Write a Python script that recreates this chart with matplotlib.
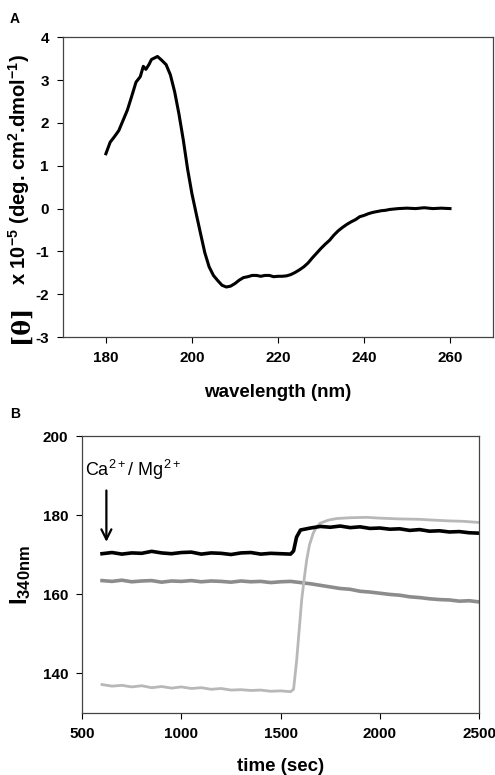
import numpy as np
import matplotlib.pyplot as plt

plt.rcParams['font.family'] = ['Liberation Sans', 'DejaVu Sans']
plt.rcParams['axes.unicode_minus'] = False

# panel A : CD spectrum
wavelength = [180, 181, 182, 183, 184, 185, 186, 187, 188, 188.7, 189.3, 190, 190.6, 191, 192,
              193, 194, 195, 196, 197, 198, 199, 200, 201, 202, 203, 204, 205, 206,
              207, 208, 209, 210, 211, 212, 213, 214, 215, 216, 217, 218, 219, 220,
              221, 222, 223, 224, 225, 226, 227, 228, 229, 230, 231, 232, 233, 234,
              235, 236, 237, 238, 239, 240, 241, 242, 243, 244, 245, 246, 247, 248,
              250, 252, 254, 256, 258, 260]
theta = [1.28, 1.55, 1.68, 1.82, 2.06, 2.3, 2.62, 2.95, 3.08, 3.32, 3.25, 3.36, 3.48, 3.5, 3.55,
         3.46, 3.36, 3.12, 2.72, 2.2, 1.6, 0.92, 0.35, -0.12, -0.58, -1.03, -1.36, -1.56, -1.68,
         -1.79, -1.83, -1.81, -1.75, -1.67, -1.61, -1.59, -1.56, -1.56, -1.58, -1.56, -1.56, -1.59, -1.58,
         -1.58, -1.57, -1.54, -1.49, -1.43, -1.36, -1.27, -1.15, -1.04, -0.93, -0.83, -0.74, -0.62, -0.52,
         -0.44, -0.37, -0.31, -0.26, -0.19, -0.16, -0.12, -0.09, -0.07, -0.05, -0.04, -0.02, -0.01, 0.0,
         0.01, 0.0, 0.02, 0.0, 0.01, 0.0]

# panel B : fluorescence time course
t_black = [600, 650, 700, 750, 800, 850, 900, 950, 1000, 1050, 1100, 1150, 1200, 1250, 1300,
           1350, 1400, 1450, 1500, 1550, 1565, 1580, 1600, 1650, 1700, 1750, 1800, 1850, 1900,
           1950, 2000, 2050, 2100, 2150, 2200, 2250, 2300, 2350, 2400, 2450, 2500]
i_black = [170.3, 170.6, 170.2, 170.5, 170.4, 170.9, 170.5, 170.3, 170.6, 170.7, 170.2, 170.5, 170.4, 170.1, 170.5,
           170.6, 170.2, 170.4, 170.3, 170.2, 171.0, 174.5, 176.3, 176.8, 177.2, 177.0, 177.3, 176.9, 177.1,
           176.7, 176.8, 176.5, 176.6, 176.2, 176.4, 176.0, 176.1, 175.8, 175.9, 175.6, 175.5]

t_dark = [600, 650, 700, 750, 800, 850, 900, 950, 1000, 1050, 1100, 1150, 1200, 1250, 1300,
          1350, 1400, 1450, 1500, 1550, 1600, 1650, 1700, 1750, 1800, 1850, 1900, 1950, 2000,
          2050, 2100, 2150, 2200, 2250, 2300, 2350, 2400, 2450, 2500]
i_dark = [163.5, 163.3, 163.6, 163.2, 163.4, 163.5, 163.1, 163.4, 163.3, 163.5, 163.2, 163.4, 163.3, 163.1, 163.4,
          163.2, 163.3, 163.0, 163.2, 163.3, 163.0, 162.7, 162.3, 161.9, 161.5, 161.3, 160.8, 160.6, 160.3,
          160.0, 159.8, 159.4, 159.2, 158.9, 158.7, 158.6, 158.3, 158.4, 158.1]

t_light = [600, 650, 700, 750, 800, 850, 900, 950, 1000, 1050, 1100, 1150, 1200, 1250, 1300,
           1350, 1400, 1450, 1500, 1550, 1565, 1580, 1595, 1606, 1620, 1631, 1645, 1664, 1680,
           1698, 1740, 1782, 1850, 1933, 2000, 2100, 2200, 2270, 2350, 2420, 2500]
i_light = [137.2, 136.8, 137.0, 136.6, 136.9, 136.4, 136.7, 136.3, 136.6, 136.2, 136.4, 136.0, 136.2, 135.8, 135.9,
           135.7, 135.8, 135.5, 135.6, 135.4, 136.0, 143.0, 152.0, 158.7, 164.5, 168.7, 172.5, 175.5, 177.0,
           178.0, 178.8, 179.2, 179.4, 179.5, 179.3, 179.1, 179.0, 178.8, 178.6, 178.5, 178.2]

fig = plt.figure(figsize=(4.95, 7.75), dpi=100)

# ---- A ----
ax1 = fig.add_axes([0.127, 0.565, 0.869, 0.387])
ax1.plot(wavelength, theta, color='black', lw=2.2)
ax1.set_xlim(170, 270)
ax1.set_ylim(-3, 4)
ax1.set_xticks([180, 200, 220, 240, 260])
ax1.set_yticks(range(-3, 5))
ax1.set_xlabel('wavelength (nm)', fontsize=13.5, fontweight='bold', labelpad=14)
ax1.set_ylabel(r'x 10$^{\mathregular{-5}}$ (deg. cm$^{\mathregular{2}}$.dmol$^{\mathregular{-1}}$)',
               fontsize=14.5, fontweight='bold')
ax1.yaxis.set_label_coords(-0.072, 0.56)
fig.text(0.042, 0.582, '[θ]', fontsize=17, family='DejaVu Serif', fontweight='bold',
         rotation=90, ha='center', va='center')
for lbl in ax1.get_xticklabels() + ax1.get_yticklabels():
    lbl.set_fontweight('bold')
ax1.tick_params(labelsize=11, length=4, width=0.8, pad=6)
for s in ax1.spines.values():
    s.set_linewidth(0.9)
    s.set_color('#444444')
fig.text(0.02, 0.985, 'A', fontsize=10, fontweight='bold', va='top')

# ---- B ----
ax2 = fig.add_axes([0.166, 0.080, 0.802, 0.357])
ax2.plot(t_dark, i_dark, color='#8c8c8c', lw=2.6)
ax2.plot(t_light, i_light, color='#b8b8b8', lw=2.0)
ax2.plot(t_black, i_black, color='black', lw=2.6)
ax2.set_xlim(500, 2500)
ax2.set_ylim(130, 200)
ax2.set_xticks([500, 1000, 1500, 2000, 2500])
ax2.set_yticks([140, 160, 180, 200])
ax2.set_xlabel('time (sec)', fontsize=13.5, fontweight='bold', labelpad=12)
ax2.set_ylabel(r'$\mathregular{I_{340nm}}$', fontsize=17, fontweight='bold')
ax2.yaxis.set_label_coords(-0.125, 0.5)
for lbl in ax2.get_xticklabels() + ax2.get_yticklabels():
    lbl.set_fontweight('bold')
ax2.tick_params(labelsize=11, length=4, width=0.8, pad=6)
for s in ax2.spines.values():
    s.set_linewidth(0.9)
    s.set_color('#444444')
ax2.annotate('', xy=(622, 172.6), xytext=(622, 187),
             arrowprops=dict(arrowstyle='->', lw=1.6, color='black', mutation_scale=18))
ax2.text(515, 191.5, r'Ca$^{\mathregular{2+}}$/ Mg$^{\mathregular{2+}}$', fontsize=13,
         ha='left', va='center')
fig.text(0.02, 0.475, 'B', fontsize=10, fontweight='bold', va='top')

fig.savefig('out.png', dpi=100)
